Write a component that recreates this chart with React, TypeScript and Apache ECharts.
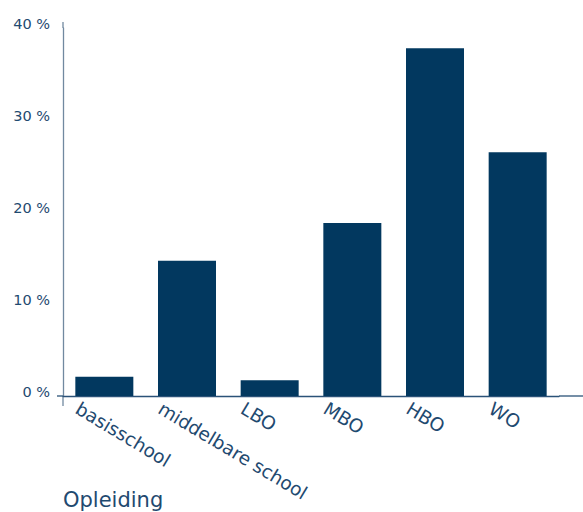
import React, { useEffect, useRef } from "react";
import * as echarts from "echarts";

const categories = ["basisschool", "middelbare school", "LBO", "MBO", "HBO", "WO"];
const values = [2.1, 14.7, 1.7, 18.8, 37.8, 26.5];
const yTicks = { min: 0, max: 40, interval: 10 };
const axisTitle = "Opleiding";

const TEXT = "#1f4a70";
const BAR = "#02385f";
const FONT = "'DejaVu Sans', 'Noto Sans', sans-serif";

export default function App() {
  const ref = useRef<HTMLDivElement>(null);
  useEffect(() => {
    const chart = echarts.init(ref.current!, null, { renderer: "svg" });
    chart.setOption({
      animation: false,
      textStyle: { fontFamily: FONT },
      grid: [
        { left: 63, right: 24, top: 28, bottom: 116 },
        { left: 36, right: 51, top: 28, bottom: 116 },
      ],
      xAxis: [
        {
          type: "category",
          gridIndex: 0,
          data: categories,
          axisLine: { lineStyle: { color: "#2b5278", width: 1.3 } },
          axisTick: { show: false },
          axisLabel: { show: false },
        },
        {
          type: "category",
          gridIndex: 1,
          data: categories,
          axisLine: { show: false },
          axisTick: { show: false },
          axisLabel: {
            rotate: -31,
            margin: 11,
            interval: 0,
            color: TEXT,
            fontSize: 18.5,
            fontFamily: FONT,
          },
        },
      ],
      yAxis: [
        {
          type: "value",
          gridIndex: 0,
          min: yTicks.min,
          max: yTicks.max,
          interval: yTicks.interval,
          axisLine: { show: true, lineStyle: { color: "#7189a0", width: 1.3 } },
          axisTick: { show: false },
          splitLine: { show: false },
          axisLabel: {
            formatter: "{value} %",
            color: TEXT,
            fontSize: 14.5,
            margin: 13,
            verticalAlign: "bottom",
            lineHeight: 8,
            fontFamily: FONT,
          },
        },
        {
          type: "value",
          gridIndex: 1,
          show: false,
          min: yTicks.min,
          max: yTicks.max,
        },
      ],
      series: [
        {
          type: "bar",
          xAxisIndex: 0,
          yAxisIndex: 0,
          data: values,
          barWidth: 58,
          itemStyle: { color: BAR },
        },
      ],
      graphic: [
        {
          type: "line",
          shape: { x1: 57, y1: 396, x2: 63, y2: 396 },
          style: { stroke: "#2b5278", lineWidth: 1.3 },
        },
        {
          type: "line",
          shape: { x1: 559, y1: 396, x2: 583, y2: 396 },
          style: { stroke: "#2b5278", lineWidth: 1.3 },
        },
        {
          type: "line",
          shape: { x1: 63, y1: 396, x2: 63, y2: 406 },
          style: { stroke: "#7189a0", lineWidth: 1.3 },
        },
        {
          type: "line",
          shape: { x1: 63, y1: 22, x2: 63, y2: 28 },
          style: { stroke: "#7189a0", lineWidth: 1.3 },
        },
        {
          type: "text",
          left: 63,
          top: 489,
          style: { text: axisTitle, fill: TEXT, fontSize: 21, fontFamily: FONT },
        },
      ],
    });
    return () => chart.dispose();
  }, []);
  return <div ref={ref} style={{ width: 583, height: 512, position: "absolute", left: 0, top: 0 }} />;
}
